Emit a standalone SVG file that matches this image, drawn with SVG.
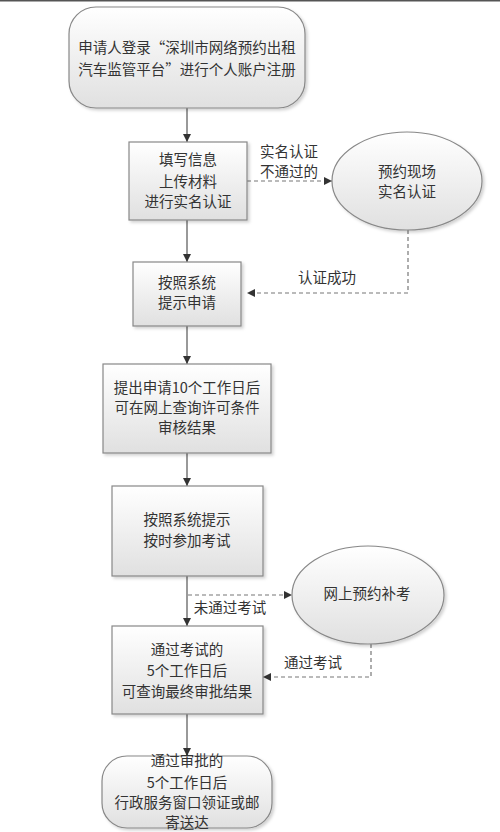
<svg xmlns="http://www.w3.org/2000/svg" width="500" height="832" viewBox="0 0 500 832">
<defs>
<linearGradient id="g" x1="0" y1="0" x2="0" y2="1">
<stop offset="0" stop-color="#ffffff"/>
<stop offset="1" stop-color="#e0e0e0"/>
</linearGradient>
<filter id="sh" x="-10%" y="-10%" width="125%" height="130%">
<feDropShadow dx="2" dy="2" stdDeviation="1.5" flood-color="#000" flood-opacity="0.18"/>
</filter>
<marker id="ah" viewBox="0 0 10 10" refX="10" refY="5" markerWidth="8" markerHeight="8" markerUnits="userSpaceOnUse" orient="auto">
<path d="M0,0 L10,5 L0,10 z" fill="#333"/>
</marker>
</defs>
<style>
.n{fill:url(#g);stroke:#888;stroke-width:1.2;filter:url(#sh)}
.t{font-family:"Noto Sans CJK SC","Liberation Sans",sans-serif;font-size:14.5px;fill:#333;text-anchor:middle}
.s{stroke:#555;stroke-width:1.2;fill:none;marker-end:url(#ah)}
.d{stroke:#777;stroke-width:1.2;fill:none;stroke-dasharray:4,3;marker-end:url(#ah)}
</style>
<rect x="0" y="0" width="500" height="832" fill="#fff"/>
<rect x="0" y="0" width="500" height="1.5" fill="#555"/>

<g id="connectors">
<line class="s" x1="187" y1="108" x2="187" y2="142"/>
<line class="s" x1="187" y1="220" x2="187" y2="262"/>
<line class="s" x1="187" y1="326" x2="187" y2="364"/>
<line class="s" x1="187" y1="453" x2="187" y2="486"/>
<line class="s" x1="187" y1="576" x2="187" y2="626"/>
<line class="s" x1="187" y1="714" x2="187" y2="756"/>
<line class="d" x1="247" y1="181" x2="332" y2="181"/>
<polyline class="d" points="408,230 408,293 247,293"/>
<line class="d" x1="188" y1="595" x2="292" y2="595"/>
<polyline class="d" points="371,644 371,677 263,677"/>
<text class="t" x="289" y="157">实名认证</text>
<text class="t" x="289" y="177">不通过的</text>
<text class="t" x="327" y="283">认证成功</text>
<text class="t" x="230" y="613">未通过考试</text>
<text class="t" x="313" y="668">通过考试</text>
</g>

<g id="n1">
<rect class="n" x="69" y="7" width="236" height="101" rx="27" ry="27"/>
<text class="t" x="187" y="53">申请人登录“深圳市网络预约出租</text>
<text class="t" x="187" y="75">汽车监管平台”进行个人账户注册</text>
</g>

<g id="n2">
<rect class="n" x="129" y="142" width="118" height="78"/>
<text class="t" x="188" y="165">填写信息</text>
<text class="t" x="188" y="187">上传材料</text>
<text class="t" x="188" y="207">进行实名认证</text>
</g>

<g id="e1">
<ellipse class="n" cx="407" cy="181" rx="75" ry="49"/>
<text class="t" x="407" y="177">预约现场</text>
<text class="t" x="407" y="197">实名认证</text>
</g>

<g id="n3">
<rect class="n" x="133" y="262" width="108" height="64"/>
<text class="t" x="187" y="288">按照系统</text>
<text class="t" x="187" y="308">提示申请</text>
</g>

<g id="n4">
<rect class="n" x="103" y="364" width="168" height="89"/>
<text class="t" x="187" y="393">提出申请10个工作日后</text>
<text class="t" x="187" y="413">可在网上查询许可条件</text>
<text class="t" x="187" y="433">审核结果</text>
</g>

<g id="n5">
<rect class="n" x="112" y="486" width="151" height="90"/>
<text class="t" x="187" y="525">按照系统提示</text>
<text class="t" x="187" y="546">按时参加考试</text>
</g>

<g id="e2">
<ellipse class="n" cx="368" cy="595" rx="76" ry="49"/>
<text class="t" x="367" y="599">网上预约补考</text>
</g>

<g id="n6">
<rect class="n" x="112" y="626" width="151" height="88"/>
<text class="t" x="187" y="655">通过考试的</text>
<text class="t" x="187" y="676">5个工作日后</text>
<text class="t" x="187" y="697">可查询最终审批结果</text>
</g>

<g id="n7">
<rect class="n" x="102" y="756" width="170" height="72" rx="25" ry="25"/>
<text class="t" x="187" y="766">通过审批的</text>
<text class="t" x="187" y="788">5个工作日后</text>
<text class="t" x="187" y="808">行政服务窗口领证或邮</text>
<text class="t" x="187" y="828">寄送达</text>
</g>
</svg>
